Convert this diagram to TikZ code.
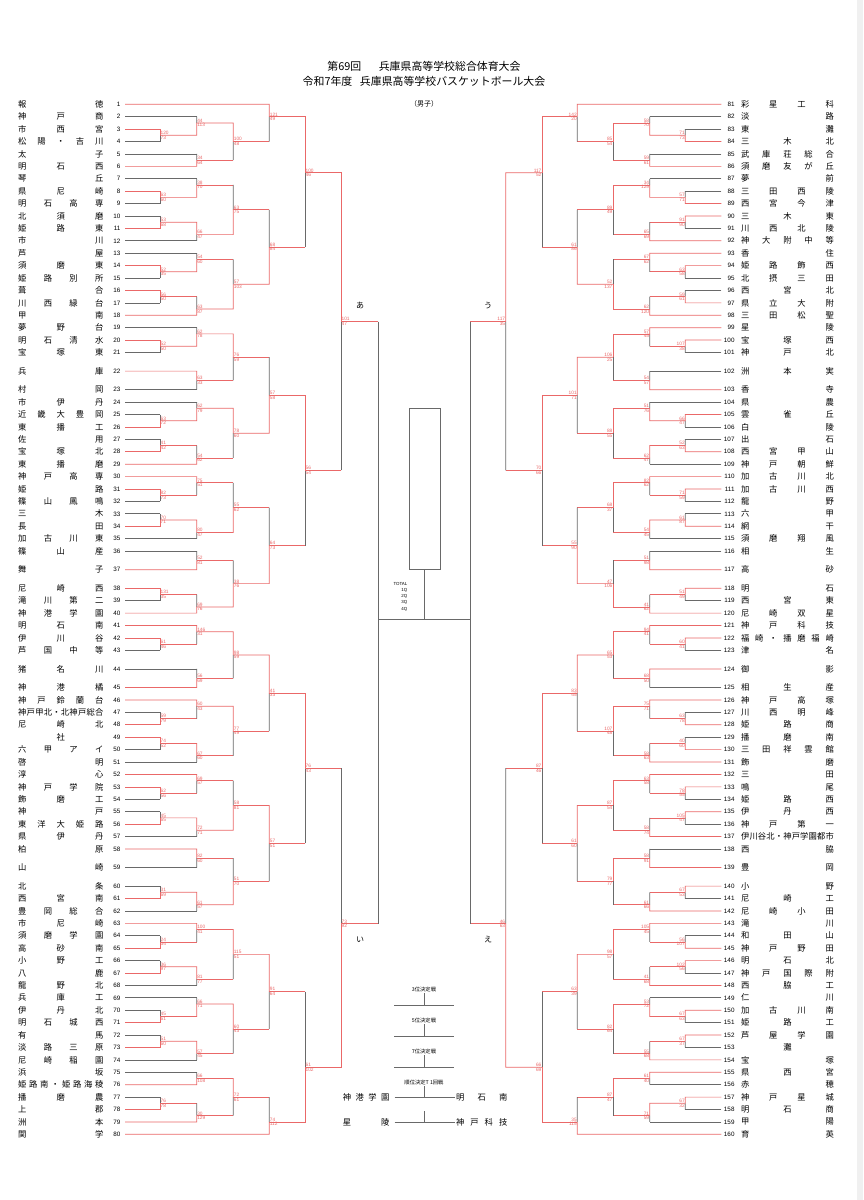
\documentclass[tikz,border=0pt]{standalone}
\usepackage{fontspec}
\setmainfont{Liberation Sans}
\newfontfamily\jp{Noto Sans CJK JP}
\usepackage{tikz}
\usetikzlibrary{positioning,calc}
\definecolor{bred}{RGB}{234,104,104}
\definecolor{bgray}{RGB}{105,105,105}
\tikzset{%
  win/.style={draw=bred, line width=0.7pt},
  lose/.style={draw=bgray, line width=0.7pt},
  feed t/.style={lose},
  feed w/.style={win},
  score/.style={text=bred, inner sep=0.4pt, font=\fontsize{4.8}{5}\selectfont},
  sctop/.style={score, anchor=south west},
  scbot/.style={score, anchor=north west},
  team name/.style={inner sep=0pt, font=\jp\fontsize{8.3}{9}\selectfont},
  team num/.style={inner sep=0pt, font=\fontsize{6.3}{7}\selectfont},
  title/.style={inner sep=0pt, font=\jp\fontsize{10.9}{12}\selectfont},
  place label/.style={inner sep=0pt, font=\jp\fontsize{5.3}{6}\selectfont},
  quarter/.style={inner sep=0pt, font=\jp\fontsize{8}{9}\selectfont},
}

% spread the letters of a name over its box
\let\sprEnd\relax
\newcommand{\spr}[1]{\sprB#1\sprEnd}
\def\sprB#1{#1\sprA}
\def\sprA#1{\ifx#1\sprEnd\else\hfill#1\expandafter\sprA\fi}

% out, column, top in, bottom in, top score, bottom score, fraction, kind top, kind bottom
\newcommand{\game}[9]{%
  \coordinate (#1) at ($(#3 -| #2)!#7!(#4 -| #2)$);
  \ifnum#5>#6\relax
    \draw[win] (#3) -- (#3 -| #2) -- (#1);
    \draw[feed #9] (#4) -- (#4 -| #2);
    \draw[lose] (#4 -| #2) -- (#1);
  \else
    \draw[feed #8] (#3) -- (#3 -| #2);
    \draw[lose] (#3 -| #2) -- (#1);
    \draw[win] (#4) -- (#4 -| #2) -- (#1);
  \fi
  \node[sctop] at (#1) {#5};
  \node[scbot] at (#1) {#6};
}
% a vs (b,c)
\newcommand{\single}[7]{%
  \game{win_#2_#3}{k1}{team_#2}{team_#3}{#4}{#5}{0.5}{t}{t}
  \game{win_#1_#3}{k2}{team_#1}{win_#2_#3}{#6}{#7}{0.333}{t}{w}
}
% (a,b) vs c
\newcommand{\pairfirst}[7]{%
  \game{win_#1_#2}{k1}{team_#1}{team_#2}{#4}{#5}{0.5}{t}{t}
  \game{win_#1_#3}{k2}{win_#1_#2}{team_#3}{#6}{#7}{0.667}{w}{t}
}
% a vs b
\newcommand{\duel}[4]{%
  \game{win_#1_#2}{k2}{team_#1}{team_#2}{#3}{#4}{0.5}{t}{t}
}

\begin{document}
\begin{tikzpicture}[x=1pt, y=-1pt]
\useasboundingbox (0,0) rectangle (863,1200);
\fill[white] (0,0) rectangle (863,1200);
\fill[gray!12] (857,0) rectangle (863,1200);

\node[title] (title_a) at (424,66) {第69回\hspace{1.6em}兵庫県高等学校総合体育大会};
\node[title] (title_b) at (424,81) {令和7年度\hspace{0.7em}兵庫県高等学校バスケットボール大会};
\node[inner sep=0pt, font=\jp\fontsize{7}{8}\selectfont, below=14pt of title_b] (boys) {（男子）};

% team slots
\foreach \first/\last/\off in {1/21/-1, 23/36/0, 38/43/1, 45/58/2, 60/80/3}
  \foreach \n in {\first,...,\last}
    {\pgfmathtruncatemacro\m{\n+80}
     \pgfmathsetmacro\yy{104.3+12.41*(\n+\off)}
     \coordinate (team_\n) at (125,\yy);
     \coordinate (team_\m) at (721.3,\yy);}
\foreach \n/\s in {22/21.5, 37/37.5, 44/45.5, 59/61.5}
    {\pgfmathtruncatemacro\m{\n+80}
     \pgfmathsetmacro\yy{104.3+12.41*\s}
     \coordinate (team_\n) at (125,\yy);
     \coordinate (team_\m) at (721.3,\yy);}

\foreach \n/\nm in {1/報徳, 2/神戸商, 3/市西宮, 4/松陽・吉川, 5/太子, 6/明石西, 7/琴丘, 8/県尼崎, 9/明石高専, 10/北須磨, 11/姫路東, 12/市川, 13/芦屋, 14/須磨東, 15/姫路別所, 16/葺合, 17/川西緑台, 18/甲南, 19/夢野台, 20/明石清水, 21/宝塚東, 22/兵庫, 23/村岡, 24/市伊丹, 25/近畿大豊岡, 26/東播工, 27/佐用, 28/宝塚北, 29/東播磨, 30/神戸高専, 31/姫路, 32/篠山鳳鳴, 33/三木, 34/長田, 35/加古川東, 36/篠山産, 37/舞子, 38/尼崎西, 39/滝川第二, 40/神港学園, 41/明石南, 42/伊川谷, 43/芦国中等, 44/猪名川, 45/神港橘, 46/神戸鈴蘭台, 47/神戸甲北・北神戸総合, 48/尼崎北, 49/\hfil 社\hfil, 50/六甲アイ, 51/啓明, 52/淳心, 53/神戸学院, 54/飾磨工, 55/神戸, 56/東洋大姫路, 57/県伊丹, 58/柏原, 59/山崎, 60/北条, 61/西宮南, 62/豊岡総合, 63/市尼崎, 64/須磨学園, 65/高砂南, 66/小野工, 67/八鹿, 68/龍野北, 69/兵庫工, 70/伊丹北, 71/明石城西, 72/有馬, 73/淡路三原, 74/尼崎稲園, 75/浜坂, 76/姫路南・姫路海稜, 77/播磨農, 78/上郡, 79/洲本, 80/関学}
    {\node[team num, left=4.3pt of team_\n] (num_\n) {\n};
     \node[team name, left=21.35pt of team_\n] (name_\n) {\makebox[85.3pt][s]{\expandafter\spr\expandafter{\nm}}};}

\foreach \n/\nm in {81/彩星工科, 82/淡路, 83/東灘, 84/三木北, 85/武庫荘総合, 86/須磨友が丘, 87/夢前, 88/三田西陵, 89/西宮今津, 90/三木東, 91/川西北陵, 92/神大附中等, 93/香住, 94/姫路飾西, 95/北摂三田, 96/西宮北, 97/県立大附, 98/三田松聖, 99/星陵, 100/宝塚西, 101/神戸北, 102/洲本実, 103/香寺, 104/県農, 105/雲雀丘, 106/白陵, 107/出石, 108/西宮甲山, 109/神戸朝鮮, 110/加古川北, 111/加古川西, 112/龍野, 113/六甲, 114/網干, 115/須磨翔風, 116/相生, 117/高砂, 118/明石, 119/西宮東, 120/尼崎双星, 121/神戸科技, 122/福崎・播磨福崎, 123/津名, 124/御影, 125/相生産, 126/神戸高塚, 127/川西明峰, 128/姫路商, 129/播磨南, 130/三田祥雲館, 131/飾磨, 132/三田, 133/鳴尾, 134/姫路西, 135/伊丹西, 136/神戸第一, 137/伊川谷北・神戸学園都市, 138/西脇, 139/豊岡, 140/小野, 141/尼崎工, 142/尼崎小田, 143/滝川, 144/和田山, 145/神戸野田, 146/明石北, 147/神戸国際附, 148/西脇工, 149/仁川, 150/加古川南, 151/姫路工, 152/芦屋学園, 153/\hfil 灘\hfil, 154/宝塚, 155/県西宮, 156/赤穂, 157/神戸星城, 158/明石商, 159/甲陽, 160/育英}
    {\node[team num, anchor=east] (num_\n) at ([xshift=13.4pt]team_\n) {\n};
     \node[team name, right=19.55pt of team_\n] (name_\n) {\makebox[92.8pt][s]{\expandafter\spr\expandafter{\nm}}};}

% left half
\begin{scope}
  \foreach \i/\x in {1/160, 2/196.7, 3/233.3, 4/269.3, 5/305, 6/341, 7/378}
    \coordinate (k\i) at (\x,0);
  \single{2}{3}{4}{120}{73}{44}{113}
  \duel{5}{6}{34}{64}
  \game{win_2_6}{k3}{win_2_4}{win_5_6}{100}{48}{0.5}{w}{w}
  \game{win_1_6}{k4}{team_1}{win_2_6}{121}{49}{0.333}{t}{w}
  \single{7}{8}{9}{63}{60}{38}{70}
  \pairfirst{10}{11}{12}{53}{68}{66}{47}
  \game{win_7_12}{k3}{win_7_9}{win_10_12}{63}{75}{0.5}{w}{w}
  \single{13}{14}{15}{52}{35}{54}{60}
  \pairfirst{16}{17}{18}{56}{50}{63}{87}
  \game{win_13_18}{k3}{win_13_15}{win_16_18}{57}{103}{0.5}{w}{w}
  \game{win_7_18}{k4}{win_7_12}{win_13_18}{68}{84}{0.5}{w}{w}
  \game{win_1_18}{k5}{win_1_6}{win_7_18}{100}{46}{0.43}{w}{w}
  \single{19}{20}{21}{52}{50}{62}{78}
  \duel{22}{23}{63}{33}
  \game{win_19_23}{k3}{win_19_21}{win_22_23}{76}{59}{0.5}{w}{w}
  \single{24}{25}{26}{63}{72}{62}{79}
  \pairfirst{27}{28}{29}{41}{42}{54}{62}
  \game{win_24_29}{k3}{win_24_26}{win_27_29}{78}{60}{0.5}{w}{w}
  \game{win_19_29}{k4}{win_19_23}{win_24_29}{57}{58}{0.5}{w}{w}
  \single{30}{31}{32}{82}{73}{75}{51}
  \pairfirst{33}{34}{35}{70}{71}{80}{47}
  \game{win_30_35}{k3}{win_30_32}{win_33_35}{55}{62}{0.5}{w}{w}
  \duel{36}{37}{52}{81}
  \pairfirst{38}{39}{40}{131}{35}{69}{76}
  \game{win_36_40}{k3}{win_36_37}{win_38_40}{38}{76}{0.5}{w}{w}
  \game{win_30_40}{k4}{win_30_35}{win_36_40}{64}{73}{0.5}{w}{w}
  \game{win_19_40}{k5}{win_19_29}{win_30_40}{56}{54}{0.5}{w}{w}
  \game{win_1_40}{k6}{win_1_18}{win_19_40}{101}{47}{0.5}{w}{w}
  \single{41}{42}{43}{61}{46}{146}{31}
  \duel{44}{45}{56}{69}
  \game{win_41_45}{k3}{win_41_43}{win_44_45}{98}{59}{0.5}{w}{w}
  \single{46}{47}{48}{59}{79}{60}{43}
  \pairfirst{49}{50}{51}{74}{52}{67}{60}
  \game{win_46_51}{k3}{win_46_48}{win_49_51}{77}{49}{0.5}{w}{w}
  \game{win_41_51}{k4}{win_41_45}{win_46_51}{41}{33}{0.5}{w}{w}
  \single{52}{53}{54}{62}{56}{69}{57}
  \pairfirst{55}{56}{57}{45}{65}{72}{71}
  \game{win_52_57}{k3}{win_52_54}{win_55_57}{58}{81}{0.5}{w}{w}
  \duel{58}{59}{82}{60}
  \pairfirst{60}{61}{62}{31}{69}{61}{57}
  \game{win_58_62}{k3}{win_58_59}{win_60_62}{51}{70}{0.5}{w}{w}
  \game{win_52_62}{k4}{win_52_57}{win_58_62}{57}{51}{0.5}{w}{w}
  \game{win_41_62}{k5}{win_41_51}{win_52_62}{76}{43}{0.5}{w}{w}
  \single{63}{64}{65}{24}{34}{100}{41}
  \pairfirst{66}{67}{68}{36}{97}{81}{77}
  \game{win_63_68}{k3}{win_63_65}{win_66_68}{115}{51}{0.5}{w}{w}
  \single{69}{70}{71}{45}{61}{66}{71}
  \pairfirst{72}{73}{74}{51}{60}{57}{45}
  \game{win_69_74}{k3}{win_69_71}{win_72_74}{60}{43}{0.5}{w}{w}
  \game{win_63_74}{k4}{win_63_68}{win_69_74}{91}{64}{0.5}{w}{w}
  \duel{75}{76}{66}{108}
  \pairfirst{77}{78}{79}{76}{78}{30}{129}
  \game{win_75_79}{k3}{win_75_76}{win_77_79}{72}{61}{0.5}{w}{w}
  \game{win_75_80}{k4}{win_75_79}{team_80}{74}{112}{0.667}{w}{t}
  \game{win_63_80}{k5}{win_63_74}{win_75_80}{61}{102}{0.58}{w}{w}
  \game{win_41_80}{k6}{win_41_62}{win_63_80}{73}{92}{0.52}{w}{w}
\end{scope}

% right half
\begin{scope}[sctop/.style={score, anchor=south east}, scbot/.style={score, anchor=north east}]
  \foreach \i/\x in {1/685.3, 2/649.7, 3/613, 4/577.3, 5/542, 6/505.7, 7/470}
    \coordinate (k\i) at (\x,0);
  \single{82}{83}{84}{71}{73}{58}{70}
  \duel{85}{86}{59}{61}
  \game{win_82_86}{k3}{win_82_84}{win_85_86}{85}{54}{0.5}{w}{w}
  \game{win_81_86}{k4}{team_81}{win_82_86}{142}{20}{0.333}{t}{w}
  \single{87}{88}{89}{57}{71}{34}{129}
  \pairfirst{90}{91}{92}{91}{90}{65}{69}
  \game{win_87_92}{k3}{win_87_89}{win_90_92}{89}{49}{0.5}{w}{w}
  \single{93}{94}{95}{63}{58}{67}{62}
  \pairfirst{96}{97}{98}{59}{61}{62}{120}
  \game{win_93_98}{k3}{win_93_95}{win_96_98}{52}{137}{0.5}{w}{w}
  \game{win_87_98}{k4}{win_87_92}{win_93_98}{61}{86}{0.5}{w}{w}
  \game{win_81_98}{k5}{win_81_86}{win_87_98}{117}{52}{0.43}{w}{w}
  \single{99}{100}{101}{107}{38}{57}{45}
  \duel{102}{103}{54}{57}
  \game{win_99_103}{k3}{win_99_101}{win_102_103}{106}{25}{0.5}{w}{w}
  \single{104}{105}{106}{66}{47}{51}{76}
  \pairfirst{107}{108}{109}{52}{63}{62}{47}
  \game{win_104_109}{k3}{win_104_106}{win_107_109}{88}{55}{0.5}{w}{w}
  \game{win_99_109}{k4}{win_99_103}{win_104_109}{101}{71}{0.5}{w}{w}
  \single{110}{111}{112}{71}{59}{82}{62}
  \pairfirst{113}{114}{115}{61}{87}{54}{45}
  \game{win_110_115}{k3}{win_110_112}{win_113_115}{68}{37}{0.5}{w}{w}
  \duel{116}{117}{51}{98}
  \pairfirst{118}{119}{120}{51}{49}{41}{62}
  \game{win_116_120}{k3}{win_116_117}{win_118_120}{47}{106}{0.5}{w}{w}
  \game{win_110_120}{k4}{win_110_115}{win_116_120}{55}{90}{0.5}{w}{w}
  \game{win_99_120}{k5}{win_99_109}{win_110_120}{70}{66}{0.5}{w}{w}
  \game{win_81_120}{k6}{win_81_98}{win_99_120}{117}{35}{0.5}{w}{w}
  \single{121}{122}{123}{60}{41}{94}{41}
  \duel{124}{125}{68}{50}
  \game{win_121_125}{k3}{win_121_123}{win_124_125}{65}{53}{0.5}{w}{w}
  \single{126}{127}{128}{63}{78}{75}{71}
  \pairfirst{129}{130}{131}{40}{60}{58}{63}
  \game{win_126_131}{k3}{win_126_128}{win_129_131}{107}{48}{0.5}{w}{w}
  \game{win_121_131}{k4}{win_121_125}{win_126_131}{83}{45}{0.5}{w}{w}
  \single{132}{133}{134}{78}{55}{63}{58}
  \pairfirst{135}{136}{137}{105}{47}{58}{74}
  \game{win_132_137}{k3}{win_132_134}{win_135_137}{87}{54}{0.5}{w}{w}
  \duel{138}{139}{58}{91}
  \pairfirst{140}{141}{142}{67}{53}{61}{66}
  \game{win_138_142}{k3}{win_138_139}{win_140_142}{79}{77}{0.5}{w}{w}
  \game{win_132_142}{k4}{win_132_137}{win_138_142}{61}{60}{0.5}{w}{w}
  \game{win_121_142}{k5}{win_121_131}{win_132_142}{87}{46}{0.5}{w}{w}
  \single{143}{144}{145}{56}{107}{105}{45}
  \pairfirst{146}{147}{148}{102}{56}{41}{68}
  \game{win_143_148}{k3}{win_143_145}{win_146_148}{98}{57}{0.5}{w}{w}
  \single{149}{150}{151}{67}{63}{53}{72}
  \pairfirst{152}{153}{154}{67}{37}{55}{68}
  \game{win_149_154}{k3}{win_149_151}{win_152_154}{82}{64}{0.5}{w}{w}
  \game{win_143_154}{k4}{win_143_148}{win_149_154}{63}{39}{0.5}{w}{w}
  \duel{155}{156}{61}{40}
  \pairfirst{157}{158}{159}{67}{32}{71}{59}
  \game{win_155_159}{k3}{win_155_156}{win_157_159}{87}{47}{0.5}{w}{w}
  \game{win_155_160}{k4}{win_155_159}{team_160}{35}{115}{0.667}{w}{t}
  \game{win_143_160}{k5}{win_143_154}{win_155_160}{66}{69}{0.58}{w}{w}
  \game{win_121_160}{k6}{win_121_142}{win_143_160}{46}{63}{0.52}{w}{w}
\end{scope}

% semi finals and final
\coordinate (semi_L) at (378,619);
\coordinate (semi_R) at (470,619);
\foreach \q/\s in {win_1_40/semi_L, win_41_80/semi_L, win_81_120/semi_R, win_121_160/semi_R}
  {\draw[win] (\q) -- (\q -| \s);
   \draw[lose] (\q -| \s) -- (\s);}
\draw[lose] (semi_L) -- (semi_R);
\node[draw=bgray, line width=0.7pt, minimum width=31pt, minimum height=161pt, inner sep=0pt] (champion) at (424.5,488.5) {};
\draw[lose] (champion.south) -- (champion.south |- semi_L);
\node[anchor=north east, align=right, inner sep=0pt, font=\fontsize{4.4}{6.2}\selectfont] (total) at (407.5,582) {TOTAL\\1Q\\2Q\\3Q\\4Q};

\node[quarter] at ($(win_1_40)+(19,-16)$) {あ};
\node[quarter] at ($(win_41_80)+(19,16)$) {い};
\node[quarter] at ($(win_81_120)+(-17.7,-16)$) {う};
\node[quarter] at ($(win_121_160)+(-17.7,16)$) {え};

% placing games
\foreach \lab/\yy in {3位決定戦/1005, 5位決定戦/1036, 7位決定戦/1067}
  {\draw[lose] (394,\yy) -- (454,\yy);
   \draw[lose] (424,\yy-12) -- (424,\yy);
   \node[place label] at (424,\yy-16) {\lab};}
\node[place label] (first_round) at (424,1082) {順位決定T\ 1回戦};
\foreach \r/\yy/\a/\b in {1/1097/神港学園/明石南, 2/1122/星陵/神戸科技}
  {\node[team name, anchor=west] (seed_\r_a) at (342.55,\yy) {\makebox[46.6pt][s]{\expandafter\spr\expandafter{\a}}};
   \node[team name, anchor=west] (seed_\r_b) at (455.85,\yy) {\makebox[51.3pt][s]{\expandafter\spr\expandafter{\b}}};
   \coordinate (tick_\r) at (424,\yy-11);
   \draw[lose] ([xshift=5pt]seed_\r_a.east) -- ([xshift=-1pt]seed_\r_b.west);
   \draw[lose] (tick_\r) -- (tick_\r |- seed_\r_a);}
\end{tikzpicture}
\end{document}
